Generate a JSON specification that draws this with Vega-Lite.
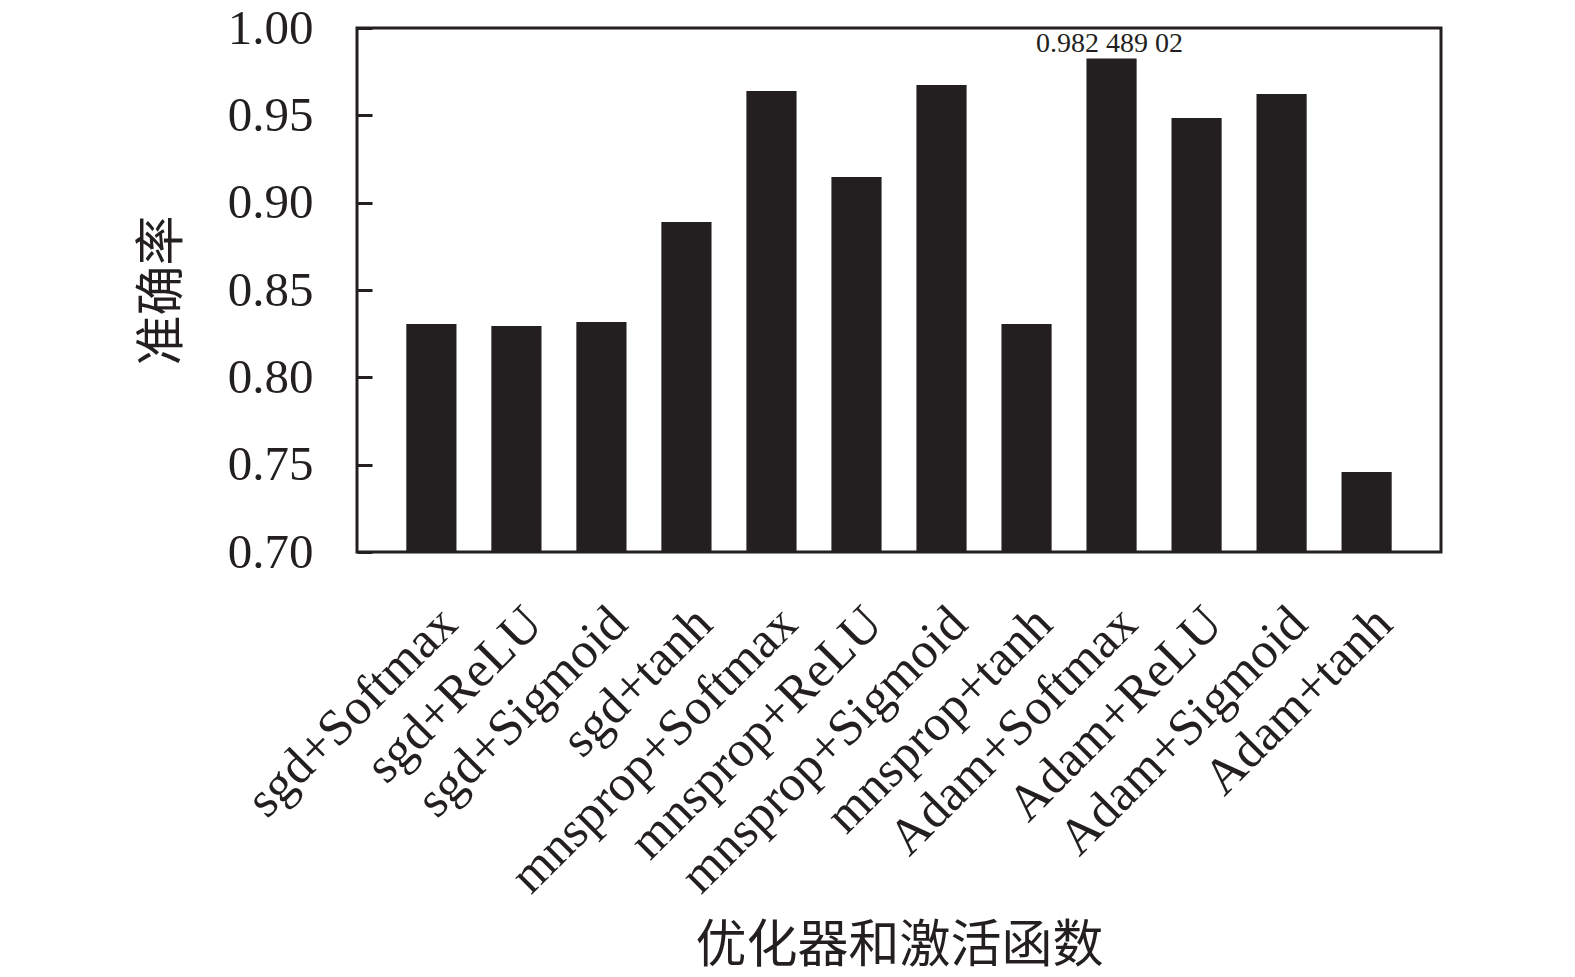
{
  "$schema": "https://vega.github.io/schema/vega-lite/v6.json",
  "width": 1084,
  "height": 524,
  "autosize": {"type": "none"},
  "padding": {"left": 357, "top": 28, "right": 134, "bottom": 425},
  "background": "white",
  "config": {
    "view": {"stroke": "#231f20", "strokeWidth": 3},
    "font": "Liberation Serif"
  },
  "data": {
    "values": [
      {"combo": "sgd+Softmax", "acc": 0.8305},
      {"combo": "sgd+ReLU", "acc": 0.8294},
      {"combo": "sgd+Sigmoid", "acc": 0.8317},
      {"combo": "sgd+tanh", "acc": 0.8889},
      {"combo": "mnsprop+Softmax", "acc": 0.9639},
      {"combo": "mnsprop+ReLU", "acc": 0.9147},
      {"combo": "mnsprop+Sigmoid", "acc": 0.9674},
      {"combo": "mnsprop+tanh", "acc": 0.8305},
      {"combo": "Adam+Softmax", "acc": 0.98248902, "label": "0.982 489 02"},
      {"combo": "Adam+ReLU", "acc": 0.9485},
      {"combo": "Adam+Sigmoid", "acc": 0.9622},
      {"combo": "Adam+tanh", "acc": 0.7458}
    ]
  },
  "encoding": {
    "x": {
      "field": "combo",
      "type": "nominal",
      "sort": null,
      "scale": {"paddingInner": 0.41, "paddingOuter": 0.58},
      "axis": {
        "title": "优化器和激活函数",
        "titleFont": "Noto Sans CJK SC",
        "titleFontWeight": "normal",
        "titleFontSize": 51,
        "titleColor": "#231f20",
        "titleBaseline": "middle",
        "titleY": 394,
        "labelAngle": -45,
        "labelFontSize": 51,
        "labelLimit": 0,
        "labelColor": "#231f20",
        "labelPadding": 46,
        "ticks": false,
        "domain": false
      }
    },
    "y": {
      "field": "acc",
      "type": "quantitative",
      "scale": {"domain": [0.7, 1.0], "zero": false, "nice": false},
      "axis": {
        "title": "准确率",
        "titleFont": "Noto Sans CJK SC",
        "titleFontWeight": "normal",
        "titleFontSize": 50,
        "titleColor": "#231f20",
        "titlePadding": 40,
        "values": [0.7, 0.75, 0.8, 0.85, 0.9, 0.95, 1.0],
        "format": ".2f",
        "labelFontSize": 49,
        "labelColor": "#231f20",
        "labelPadding": 59,
        "tickSize": -15,
        "tickWidth": 3,
        "tickColor": "#231f20",
        "grid": false,
        "domain": false
      }
    }
  },
  "layer": [
    {
      "mark": {"type": "bar", "color": "#231f20", "clip": true}
    },
    {
      "transform": [{"filter": "datum.label != null"}],
      "mark": {"type": "text", "fontSize": 28, "color": "#231f20", "baseline": "alphabetic", "dy": -7, "dx": -2},
      "encoding": {"text": {"field": "label"}}
    }
  ]
}
